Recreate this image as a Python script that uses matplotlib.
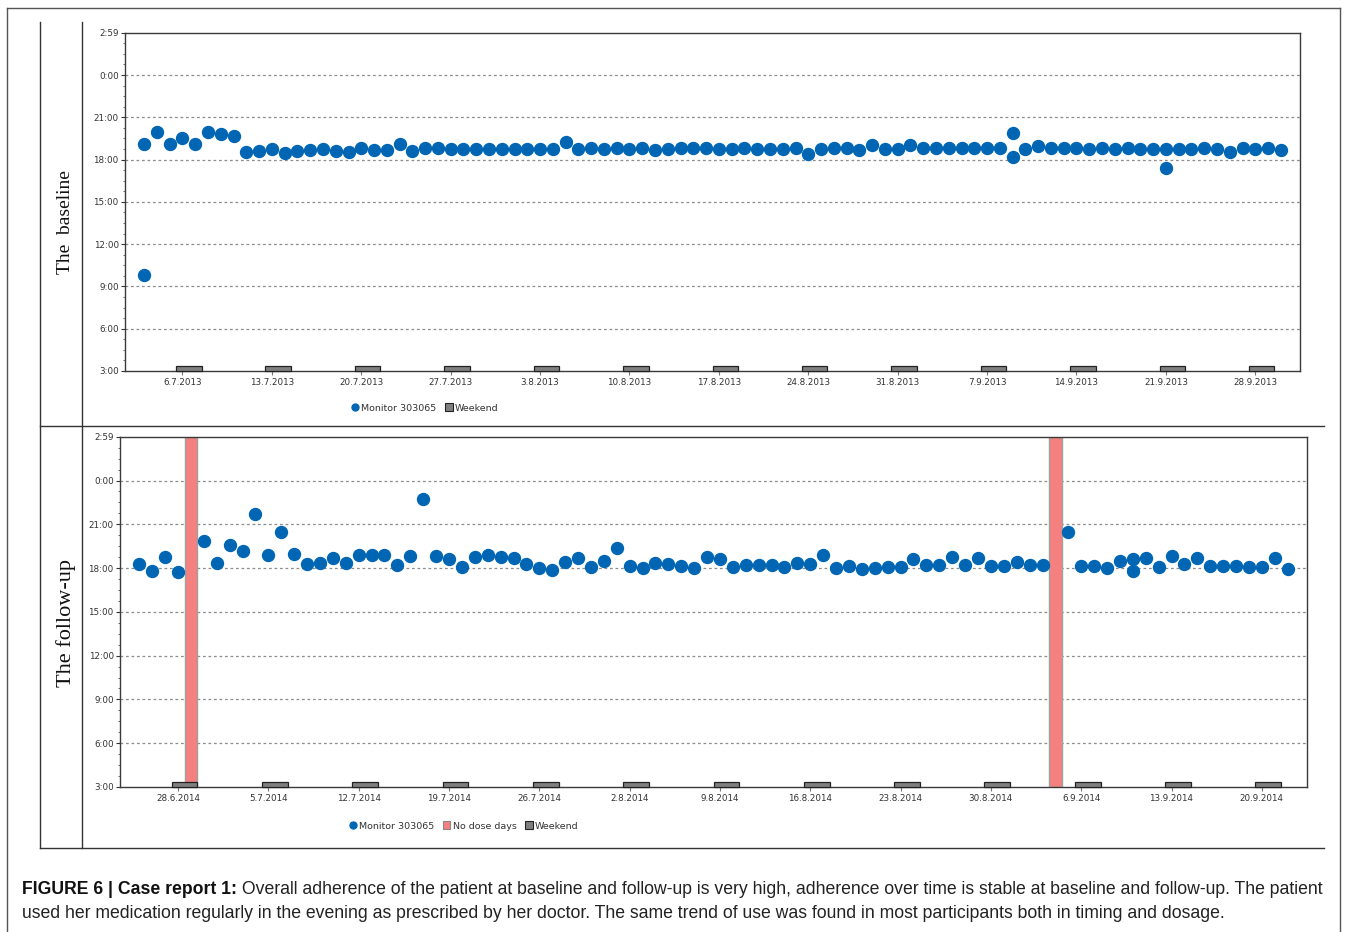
import numpy as np
import matplotlib
matplotlib.use('Agg')
import matplotlib.pyplot as plt
import matplotlib.dates as mdates
from matplotlib.lines import Line2D
from matplotlib.patches import Patch, Rectangle
from matplotlib import font_manager
from matplotlib.transforms import blended_transform_factory
from datetime import datetime, timedelta

W, H = 1357, 932

# ---- data (time of day in hours, one dose per day) ----
baseline_start = datetime(2013, 7, 3)
baseline_hours = [
    19.12, 19.94, 19.10, 19.54, 19.10, 19.94, 19.85, 19.68, 18.52, 18.59,
    18.76, 18.45, 18.59, 18.66, 18.73, 18.59, 18.57, 18.80, 18.66, 18.66,
    19.14, 18.59, 18.80, 18.80, 18.73, 18.73, 18.73, 18.73, 18.73, 18.73,
    18.73, 18.73, 18.73, 19.28, 18.73, 18.80, 18.73, 18.80, 18.73, 18.80,
    18.66, 18.73, 18.80, 18.80, 18.80, 18.73, 18.73, 18.80, 18.73, 18.73,
    18.73, 18.80, 18.40, 18.73, 18.80, 18.80, 18.66, 19.02, 18.73, 18.73,
    19.02, 18.80, 18.80, 18.80, 18.80, 18.80, 18.80, 18.80, 18.21, 18.73,
    18.95, 18.80, 18.80, 18.80, 18.73, 18.80, 18.73, 18.80, 18.73, 18.73,
    18.73, 18.73, 18.73, 18.80, 18.73, 18.57, 18.80, 18.73, 18.85, 18.66,
]
baseline_extra_days = [0, 68, 80]
baseline_extra_hours = [9.83, 19.92, 17.38]

followup_start = datetime(2014, 6, 25)
followup_hours = [
    18.29, 17.82, 18.77, 17.73, np.nan, 19.85, 18.34, 19.58, 19.20, 21.74,
    18.92, 20.44, 18.99, 18.25, 18.34, 18.70, 18.34, 18.88, 18.88, 18.88,
    18.20, 18.83, 22.75, 18.83, 18.61, 18.09, 18.77, 18.90, 18.77, 18.68,
    18.29, 18.00, 17.86, 18.43, 18.70, 18.09, 18.50, 19.35, 18.16, 18.02,
    18.34, 18.25, 18.16, 18.02, 18.77, 18.59, 18.07, 18.23, 18.18, 18.18,
    18.07, 18.34, 18.27, 18.89, 17.98, 18.16, 17.95, 18.00, 18.07, 18.07,
    18.61, 18.18, 18.18, 18.77, 18.23, 18.68, 18.16, 18.16, 18.43, 18.18,
    18.23, np.nan, 20.50, 18.16, 18.16, 18.00, 18.48, 18.64, 18.70, 18.05,
    18.84, 18.27, 18.68, 18.16, 18.16, 18.16, 18.07, 18.07, 18.68, 17.95,
]
followup_extra_days = [77]
followup_extra_hours = [17.80]
followup_no_dose_days = [4, 71]

baseline_range = (datetime(2013, 7, 2), datetime(2013, 10, 2))
followup_range = (datetime(2014, 6, 24), datetime(2014, 9, 24))

y_ticks = [3, 6, 9, 12, 15, 18, 21, 24, 26 + 59 / 60]
y_labels = ['3:00', '6:00', '9:00', '12:00', '15:00', '18:00', '21:00', '0:00', '2:59']

BLUE = '#0066b4'
RED = '#f58080'
GRAY = '#7f7f7f'
TXT = '#333333'


def fx(x):
    return x / W


def fy(y):
    return 1 - y / H


def draw_panel(ax, start, hours, extra_days, extra_hours, xr, no_dose=()):
    ax.set_xlim(mdates.date2num(xr[0]), mdates.date2num(xr[1]))
    ax.set_ylim(3, 26 + 59 / 60)

    for t in y_ticks[1:-1]:
        ax.axhline(t, color='#8c8c8c', lw=0.9, ls=(0, (2.2, 2.2)), zorder=1)

    for d in no_dose:
        x0 = mdates.date2num(start + timedelta(days=d))
        ax.axvspan(x0, x0 + 1, facecolor=RED, edgecolor='#a0a0a0', lw=1.0, zorder=2)

    days = np.arange(len(hours))
    xs = [mdates.date2num(start + timedelta(days=int(d), hours=12)) for d in days]
    ax.plot(xs, hours, ls='', marker='o', ms=8.6, color=BLUE, mec=BLUE, zorder=4)
    xe = [mdates.date2num(start + timedelta(days=int(d), hours=12)) for d in extra_days]
    ax.plot(xe, extra_hours, ls='', marker='o', ms=8.6, color=BLUE, mec=BLUE, zorder=4)

    # weekends: Saturday 0:00 to Monday 0:00
    sat = xr[0]
    while sat.weekday() != 5:
        sat += timedelta(days=1)
    sats = []
    while sat < xr[1]:
        sats.append(sat)
        sat += timedelta(days=7)
    trans = blended_transform_factory(ax.transData, ax.transAxes)
    hfrac = 5.5 / (ax.get_position().height * H)
    for s in sats:
        ax.add_patch(Rectangle((mdates.date2num(s), 0), 2, hfrac, transform=trans,
                               facecolor=GRAY, edgecolor='#222222', lw=0.9,
                               zorder=3, clip_on=False))

    ax.set_xticks([mdates.date2num(s + timedelta(hours=12)) for s in sats])
    ax.set_xticklabels([f'{s.day}.{s.month}.{s.year}' for s in sats])
    ax.set_yticks(y_ticks)
    ax.set_yticklabels(y_labels)
    ax.yaxis.set_minor_locator(matplotlib.ticker.MultipleLocator(0.75))
    ax.tick_params(axis='both', labelsize=6.3, colors=TXT, length=3, width=0.8, pad=1.5)
    ax.tick_params(axis='y', which='minor', length=1.8, width=0.6, colors='#555555')
    ax.tick_params(axis='x', colors='#777777', labelcolor=TXT, pad=2)
    for sp in ax.spines.values():
        sp.set_color('#3a3a3a')
        sp.set_linewidth(1.0)


fig = plt.figure(figsize=(W / 100, H / 100), dpi=100)

ax1 = fig.add_axes([fx(125), fy(371), fx(1300) - fx(125), fy(33) - fy(371)])
draw_panel(ax1, baseline_start, baseline_hours, baseline_extra_days,
           baseline_extra_hours, baseline_range)

ax2 = fig.add_axes([fx(120), fy(787), fx(1307) - fx(120), fy(437) - fy(787)])
draw_panel(ax2, followup_start, followup_hours, followup_extra_days,
           followup_extra_hours, followup_range, followup_no_dose_days)

# legends
h_mon = Line2D([], [], ls='', marker='o', ms=5, color=BLUE)
h_wk = Patch(facecolor=GRAY, edgecolor='#222222', lw=0.8)
h_nd = Patch(facecolor=RED, edgecolor='#888888', lw=0.8)
leg_kw = dict(frameon=False, fontsize=6.8, handlelength=0.8, handleheight=0.9,
              handletextpad=0.25, columnspacing=0.9, borderpad=0, labelcolor=TXT)
fig.legend([h_mon, h_wk], ['Monitor 303065', 'Weekend'], ncol=2,
           loc='center', bbox_to_anchor=(fx(425), fy(408)), **leg_kw)
fig.legend([h_mon, h_nd, h_wk], ['Monitor 303065', 'No dose days', 'Weekend'], ncol=3,
           loc='center', bbox_to_anchor=(fx(464), fy(826)), **leg_kw)

# panel labels
serif = ['Liberation Serif', 'DejaVu Serif']
fig.text(fx(66), fy(222), 'The  baseline', rotation=90, ha='center', va='center',
         fontsize=14, family=serif, color='#111111')
fig.text(fx(66), fy(623), 'The follow-up', rotation=90, ha='center', va='center',
         fontsize=16, family=serif, color='#111111')

# frame lines
def hline(x0, x1, y, lw=1.0, c='#333333'):
    fig.add_artist(Line2D([fx(x0), fx(x1)], [fy(y), fy(y)], color=c, lw=lw))


def vline(x, y0, y1, lw=1.0, c='#333333'):
    fig.add_artist(Line2D([fx(x), fx(x)], [fy(y0), fy(y1)], color=c, lw=lw))


hline(7, 1340, 8, c='#555555')
vline(7, 8, 932, c='#555555')
vline(1340, 8, 932, c='#555555')
vline(40, 22, 848)
vline(82, 22, 848)
hline(40, 1324, 426)
hline(40, 1324, 848)

# caption
names = {f.name for f in font_manager.fontManager.ttflist}
cap_font = 'Liberation Sans Narrow' if 'Liberation Sans Narrow' in names else 'Liberation Sans'
renderer = fig.canvas.get_renderer()

bold1 = 'FIGURE 6 | Case report 1:'
rest1 = (' Overall adherence of the patient at baseline and follow-up is very high, '
         'adherence over time is stable at baseline and follow-up. The patient')
line2 = ('used her medication regularly in the evening as prescribed by her doctor. '
         'The same trend of use was found in most participants both in timing and dosage.')

probe_b = fig.text(0, 0, bold1, fontsize=10, family=cap_font, fontweight='bold')
probe_r = fig.text(0, 0, rest1, fontsize=10, family=cap_font)
wb = probe_b.get_window_extent(renderer).width
wr = probe_r.get_window_extent(renderer).width
probe_b.remove()
probe_r.remove()
size = 10 * 1310 / (wb + wr)

t1 = fig.text(fx(22), fy(889), bold1, fontsize=size, family=cap_font,
              fontweight='bold', va='center', color='#111111')
bb = t1.get_window_extent(renderer)
fig.text(bb.x1 / W, fy(889), rest1, fontsize=size, family=cap_font,
         va='center', color='#222222')
fig.text(fx(22), fy(914), line2, fontsize=size, family=cap_font,
         va='center', color='#222222')

fig.savefig('out.png', dpi=100)
